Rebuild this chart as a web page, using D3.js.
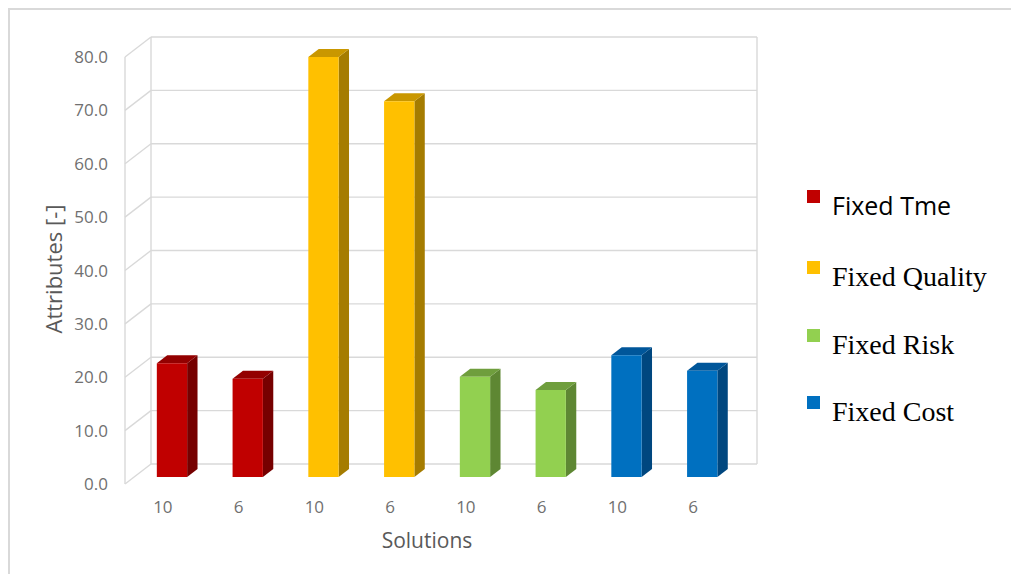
<!DOCTYPE html>
<html>
<head>
<meta charset="utf-8">
<script src="https://cdn.jsdelivr.net/npm/d3@7/dist/d3.min.js"></script>
<style>
html,body{margin:0;padding:0;background:#fff;}
svg{display:block;}
</style>
</head>
<body>
<svg id="chart" width="1011" height="574"></svg>
<script>
// ---- data ----
const seriesNames = ["Fixed Tme", "Fixed Quality", "Fixed Risk", "Fixed Cost"];
const solutions = ["10", "6"];
const fixedTime = [21.3, 18.4];
const fixedQuality = [78.7, 70.4];
const fixedRisk = [18.8, 16.3];
const fixedCost = [22.8, 19.9];
const yTicks = [0, 10, 20, 30, 40, 50, 60, 70, 80];
const seriesColors = ["#C00000", "#FFC000", "#92D050", "#0070C0"];
const topColors = ["#930000", "#C99700", "#6F9E3D", "#00569A"];
const sideColors = ["#760000", "#A57C00", "#5E8733", "#00477F"];

const seriesValues = [fixedTime, fixedQuality, fixedRisk, fixedCost];
const rows = [];
seriesValues.forEach((vals, s) => vals.forEach((v, j) => rows.push({s, label: solutions[j], value: v, key: s * solutions.length + j})));

const svg = d3.select("#chart");
const SANS = "'Open Sans', sans-serif";

// outer frame (top & left)
svg.append("path").attr("d", "M9,574 V9 H1011").attr("fill", "none").attr("stroke", "#d9d9d9").attr("stroke-width", 2);

// scales (back wall plane)
const y = d3.scaleLinear().domain([0, 80]).range([464, 37]);
const x = d3.scaleBand().domain(rows.map(d => d.key)).range([151, 757]).paddingInner(0.6).paddingOuter(0.3);

// depth projection: z from 0 (back wall) to 1 (front edge)
const DX = -26, DY = 20;
const P = (xb, v, z) => [xb + DX * z, y(v) + DY * z];
const grid = "#d9d9d9";

const g = svg.append("g");
g.selectAll("line.grid").data(yTicks).join("line")
  .attr("x1", 151).attr("x2", 757).attr("y1", d => y(d)).attr("y2", d => y(d))
  .attr("stroke", grid).attr("stroke-width", 1.4);
[151, 757].forEach(xx => g.append("line").attr("x1", xx).attr("x2", xx).attr("y1", y(0)).attr("y2", y(80)).attr("stroke", grid).attr("stroke-width", 1.4));
g.selectAll("line.diag").data(yTicks).join("line")
  .attr("x1", d => P(151, d, 1)[0]).attr("y1", d => P(151, d, 1)[1])
  .attr("x2", 151).attr("y2", d => y(d))
  .attr("stroke", grid).attr("stroke-width", 1.4);
g.append("line").attr("x1", P(151, 0, 1)[0]).attr("x2", P(151, 80, 1)[0])
  .attr("y1", P(151, 0, 1)[1]).attr("y2", P(151, 80, 1)[1]).attr("stroke", grid).attr("stroke-width", 1.4);

// y tick labels
g.selectAll("text.ytick").data(yTicks).join("text")
  .attr("x", P(151, 0, 1)[0] - 17).attr("y", d => P(151, d, 1)[1] + 6)
  .attr("text-anchor", "end").attr("font-family", SANS).attr("font-size", 17)
  .attr("fill", "#707070").text(d => d.toFixed(1));

// bars
const zF = 0.65, zB = 0.25;
const bw = x.bandwidth();
const poly = pts => "M" + pts.map(p => p.join(",")).join("L") + "Z";
const bars = svg.append("g").selectAll("g").data(rows).join("g");
bars.append("path").attr("fill", d => sideColors[d.s]).attr("d", d => {
  const xl = x(d.key) + bw;
  return poly([P(xl, 0, zF), P(xl, 0, zB), P(xl, d.value, zB), P(xl, d.value, zF)]);
});
bars.append("path").attr("fill", d => topColors[d.s]).attr("d", d => {
  const xl = x(d.key);
  return poly([P(xl, d.value, zF), P(xl, d.value, zB), P(xl + bw, d.value, zB), P(xl + bw, d.value, zF)]);
});
bars.append("path").attr("fill", d => seriesColors[d.s]).attr("d", d => {
  const xl = x(d.key);
  return poly([P(xl, 0, zF), P(xl, d.value, zF), P(xl + bw, d.value, zF), P(xl + bw, 0, zF)]);
});

// x labels
svg.append("g").selectAll("text").data(rows).join("text")
  .attr("x", d => P(x(d.key) + bw / 2, 0, 1)[0]).attr("y", P(151, 0, 1)[1] + 29)
  .attr("text-anchor", "middle").attr("font-family", SANS).attr("font-size", 17)
  .attr("fill", "#707070").text(d => d.label);

// axis titles
svg.append("text").attr("x", 427).attr("y", 548).attr("text-anchor", "middle")
  .attr("font-family", SANS).attr("font-size", 21).attr("fill", "#595959").text("Solutions");
svg.append("text").attr("transform", "translate(62,269) rotate(-90)").attr("text-anchor", "middle")
  .attr("font-family", SANS).attr("font-size", 22).attr("fill", "#595959").text("Attributes [-]");

// legend
const legY = [190, 261, 329, 396];
const leg = svg.append("g").selectAll("g").data(seriesNames).join("g");
leg.append("rect").attr("x", 807).attr("y", (d, i) => legY[i]).attr("width", 13).attr("height", 13)
  .attr("fill", (d, i) => seriesColors[i]);
leg.append("text").attr("x", 832).attr("y", (d, i) => legY[i] + 25)
  .attr("font-family", (d, i) => i === 0 ? SANS : "'Liberation Serif', 'Times New Roman', serif")
  .attr("font-size", (d, i) => i === 0 ? 25 : 28).attr("fill", "#000").text(d => d);
</script>
</body>
</html>
